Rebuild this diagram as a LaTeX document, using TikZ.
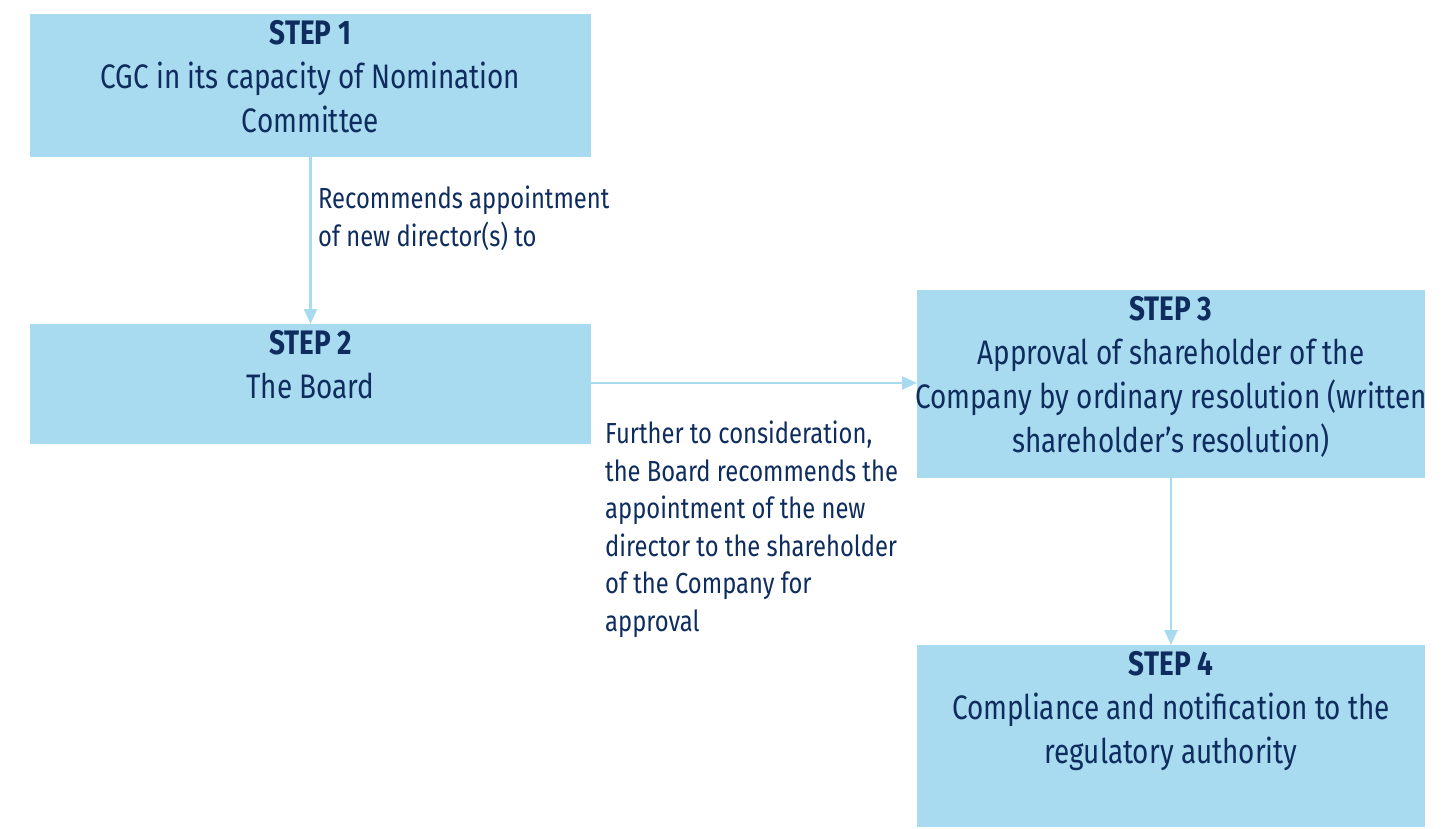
\documentclass[tikz,border=0pt]{standalone}
\usepackage{fontspec}
\setmainfont{Fira Sans}[FakeStretch=0.82]
\usetikzlibrary{arrows.meta}
\definecolor{boxblue}{HTML}{A9DBF0}
\definecolor{navy}{HTML}{0E2D5E}
\definecolor{linkblue}{HTML}{A9DBF0}
\begin{document}
\begin{tikzpicture}[x=1pt,y=-1pt,
  stepbox/.style={fill=boxblue,draw=none,inner sep=0pt,outer sep=0pt},
  steptext/.style={anchor=north,inner sep=0pt,align=center,text=navy,font=\fontsize{34}{44}\selectfont},
  linktext/.style={anchor=north west,inner sep=0pt,align=left,text=navy,font=\fontsize{29}{37.5}\selectfont},
  link/.style={draw=linkblue,line width=2.5pt,-{Triangle[width=13pt,length=15pt]}}]
\useasboundingbox (0,0) rectangle (1452,828);
\node[stepbox,minimum width=561pt,minimum height=143pt] (s1) at (310.5,85.5) {};
\node[stepbox,minimum width=561pt,minimum height=120pt] (s2) at (310.5,384) {};
\node[stepbox,minimum width=508pt,minimum height=188pt] (s3) at (1171,384) {};
\node[stepbox,minimum width=508pt,minimum height=182pt] (s4) at (1171,736) {};
\node[steptext] (t1) at (310.5,20) {\textbf{STEP 1}\\CGC in its capacity of Nomination\\Committee};
\node[steptext] (t2) at (310.5,330) {\textbf{STEP 2}\\The Board};
\node[steptext] (t3) at (1171,296) {\textbf{STEP 3}\\Approval of shareholder of the\\Company by ordinary resolution (written\\shareholder's resolution)};
\node[steptext] (t4) at (1171,651) {\textbf{STEP 4}\\Compliance and notification to the\\regulatory authority};
\draw[link] (s1.south) -- (s2.north);
\draw[link] (s2.east |- 0,383) -- (s3.west |- 0,383);
\draw[link] (s3.south) -- (s4.north);
\node[linktext] (l1) at (318,186) {Recommends appointment\\of new director(s) to};
\node[linktext] (l2) at (605,421) {Further to consideration,\\the Board recommends the\\appointment of the new\\director to the shareholder\\of the Company for\\approval};
\end{tikzpicture}
\end{document}
